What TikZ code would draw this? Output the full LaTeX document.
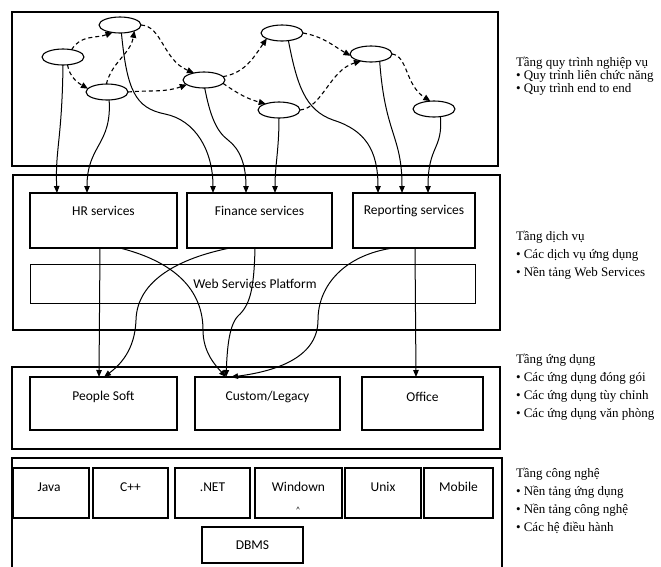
\documentclass[tikz,border=0pt]{standalone}
\usepackage{fontspec}
\setmainfont{Liberation Serif}
\newfontfamily\boxfont{Carlito}
\usetikzlibrary{arrows.meta,shapes.geometric,fit}
\begin{document}
\begin{tikzpicture}[x=1pt,y=1pt,
  every node/.style={inner sep=0pt,outer sep=0pt},
  layerbox/.style={draw,line width=2.5pt},
  svcbox/.style={draw,line width=2.3pt},
  appbox/.style={draw,line width=2pt},
  techbox/.style={draw,line width=1.8pt},
  platbox/.style={draw,line width=1pt},
  ell/.style={ellipse,draw,line width=1.1pt,minimum width=42pt,minimum height=16pt},
  flowarrow/.style={line width=1.1pt,dash pattern=on 4pt off 3pt,-{Triangle[length=7pt,width=6pt]}},
  link/.style={line width=1pt,-{Triangle[length=7pt,width=5.5pt]}},
  boxtext/.style={font=\boxfont\fontsize{13.5}{15}\selectfont},
  sidetext/.style={anchor=west,font=\fontsize{13}{15}\selectfont},
]
\useasboundingbox (0,0) rectangle (661,-566);

% ---------- layers ----------
\node[layerbox,fit={(12,-12)(498,-166)}] (L1) {};
\node[layerbox,fit={(13,-175)(500,-330)}] (L2) {};
\node[layerbox,fit={(12,-367)(500,-449)}] (L3) {};
\node[layerbox,fit={(12,-458)(502,-580)}] (L4) {};

% ---------- process ellipses ----------
\node[ell] (e1) at (63,-57) {};
\node[ell] (e2) at (120,-25) {};
\node[ell] (e3) at (107,-92) {};
\node[ell] (e4) at (204,-80) {};
\node[ell] (e5) at (282,-33) {};
\node[ell] (e6) at (279,-110) {};
\node[ell] (e7) at (371,-54) {};
\node[ell] (e8) at (434,-109) {};

% ---------- service boxes ----------
\node[svcbox,fit={(30,-193)(177,-248)}] (hr) {};
\node[svcbox,fit={(187,-193)(332,-248)}] (fi) {};
\node[svcbox,fit={(353,-193)(475,-248)}] (re) {};
\node[boxtext] (hrT) at (103.5,-211) {HR services};
\node[boxtext] (fiT) at (259.5,-211) {Finance services};
\node[boxtext] (reT) at (414,-211) {Reporting services};
\node[platbox,fit={(30,-264)(475,-303)}] (wsp) {};
\node[boxtext] (wspT) at (255,-284) {Web Services Platform};

% ---------- application boxes ----------
\node[appbox,fit={(30,-377)(177,-430)}] (ps) {};
\node[appbox,fit={(195,-377)(340,-430)}] (cl) {};
\node[appbox,fit={(362,-377)(483,-430)}] (of) {};
\node[boxtext] (psT) at (103.5,-397) {People Soft};
\node[boxtext] (clT) at (267.5,-397) {Custom/Legacy};
\node[boxtext] (ofT) at (422.5,-397) {Office};

% ---------- technology boxes ----------
\node[techbox,fit={(13,-468)(89,-518)}] (java) {};
\node[techbox,fit={(93,-468)(168,-518)}] (cpp) {};
\node[techbox,fit={(175,-468)(250,-518)}] (net) {};
\node[techbox,fit={(255,-468)(342,-518)}] (win) {};
\node[techbox,fit={(345,-468)(421,-518)}] (unix) {};
\node[techbox,fit={(424,-468)(493,-518)}] (mob) {};
\node[techbox,fit={(202,-527)(303,-563)}] (dbms) {};
\node[boxtext] (javaT) at (49,-487) {Java};
\node[boxtext] (cppT) at (130.5,-487) {C++};
\node[boxtext] (netT) at (212.5,-487) {.NET};
\node[boxtext] (winT) at (298.5,-487) {Windown};
\node[boxtext] (unixT) at (383,-487) {Unix};
\node[boxtext] (mobT) at (458.5,-487) {Mobile};
\node[boxtext] (dbmsT) at (252.5,-545) {DBMS};
\node[font=\boxfont\fontsize{8}{8}\selectfont] (caret) at (298,-510) {\textasciicircum};

% ---------- dashed process flow ----------
\draw[flowarrow] (e1.40) to[out=60,in=200] (e2.225);
\draw[flowarrow] (e1.300) to[out=-80,in=150] (e3.170);
\draw[flowarrow] (e3.95) to[out=75,in=-100] (e2.-22);
\draw[flowarrow] (e2.east) .. controls (162,-26) and (163,-60) .. (e4.145);
\draw[flowarrow] (e3.east) to[out=5,in=200] (e4.195);
\draw[flowarrow] (e4.10) to[out=10,in=235] (e5.200);
\draw[flowarrow] (e4.-10) to[out=-35,in=165] (e6.155);
\draw[flowarrow] (e5.east) to[out=-10,in=150] (e7.185);
\draw[flowarrow] (e6.east) .. controls (322,-108) and (330,-70) .. (e7.215);
\draw[flowarrow] (e7.east) .. controls (408,-56) and (405,-85) .. (e8.115);

% ---------- arrival / departure points ----------
\coordinate (hrIn1) at ([xshift=27pt]hr.north west);
\coordinate (hrIn2) at ([xshift=57pt]hr.north west);
\coordinate (fiIn1) at ([xshift=26pt]fi.north west);
\coordinate (fiIn2) at ([xshift=59pt]fi.north west);
\coordinate (fiIn3) at ([xshift=88pt]fi.north west);
\coordinate (reIn1) at ([xshift=25pt]re.north west);
\coordinate (reIn2) at ([xshift=49pt]re.north west);
\coordinate (reIn3) at ([xshift=75pt]re.north west);
\coordinate (hrOut1) at ([xshift=70pt]hr.south west);
\coordinate (hrOut2) at ([xshift=90pt]hr.south west);
\coordinate (fiOut1) at ([xshift=43pt]fi.south west);
\coordinate (fiOut2) at ([xshift=68pt]fi.south west);
\coordinate (reOut1) at ([xshift=40pt]re.south west);
\coordinate (reOut2) at ([xshift=62pt]re.south west);
\coordinate (psIn1) at ([xshift=69pt]ps.north west);
\coordinate (psIn2) at ([xshift=74pt]ps.north west);
\coordinate (clIn1) at ([xshift=31pt]cl.north west);
\coordinate (clIn2) at ([xshift=36pt]cl.north west);
\coordinate (ofIn) at ([xshift=54pt]of.north west);

% ---------- process -> services ----------
\draw[link] (e1.south) .. controls (62,-140) and (55,-150) .. (hrIn1);
\draw[link] (e3.-75) .. controls (112,-145) and (87,-145) .. (hrIn2);
\draw[link] (e2.-80) .. controls (127,-90) and (135,-108) .. (165,-114)
            .. controls (195,-120) and (213,-150) .. (fiIn1);
\draw[link] (e4.-85) .. controls (210,-115) and (216,-131) .. (228,-140)
            .. controls (240,-149) and (246,-165) .. (fiIn2);
\draw[link] (e6.south) .. controls (279,-150) and (275,-165) .. (fiIn3);
\draw[link] (e5.-50) .. controls (297,-85) and (305,-110) .. (333,-120)
            .. controls (365,-130) and (378,-150) .. (reIn1);
\draw[link] (e7.-40) .. controls (385,-135) and (402,-135) .. (reIn2);
\draw[link] (e8.-50) .. controls (443,-150) and (428,-145) .. (reIn3);

% ---------- services -> applications ----------
\draw[link] (hrOut1) -- (psIn1);
\draw[link] (hrOut2) .. controls (175,-262) and (203,-290) .. (203,-330)
            .. controls (203,-352) and (215,-365) .. (clIn1);
\draw[link] (fiOut1) .. controls (180,-258) and (137,-280) .. (136,-320)
            .. controls (135,-350) and (120,-365) .. (psIn2);
\draw[link] (fiOut2) .. controls (254,-290) and (250,-305) .. (238,-316)
            .. controls (228,-326) and (227,-355) .. (clIn1);
\draw[link] (reOut1) .. controls (345,-255) and (318,-285) .. (318,-320)
            .. controls (318,-360) and (270,-372) .. (clIn2);
\draw[link] (reOut2) -- (ofIn);

% ---------- side descriptions ----------
\node[sidetext] (g1a) at (516,-63) {Tầng quy trình nghiệp vụ};
\node[sidetext] (g1b) at (516,-76) {• Quy trình liên chức năng};
\node[sidetext] (g1c) at (516,-89) {• Quy trình end to end};
\node[sidetext] (g2a) at (516,-237) {Tầng dịch vụ};
\node[sidetext] (g2b) at (516,-255) {• Các dịch vụ ứng dụng};
\node[sidetext] (g2c) at (516,-273) {• Nền tảng Web Services};
\node[sidetext] (g3a) at (516,-360) {Tầng ứng dụng};
\node[sidetext] (g3b) at (516,-378) {• Các ứng dụng đóng gói};
\node[sidetext] (g3c) at (516,-396) {• Các ứng dụng tùy chỉnh};
\node[sidetext] (g3d) at (516,-414) {• Các ứng dụng văn phòng};
\node[sidetext] (g4a) at (516,-474) {Tầng công nghệ};
\node[sidetext] (g4b) at (516,-492) {• Nền tảng ứng dụng};
\node[sidetext] (g4c) at (516,-510) {• Nền tảng công nghệ};
\node[sidetext] (g4d) at (516,-528) {• Các hệ điều hành};
\end{tikzpicture}
\end{document}
